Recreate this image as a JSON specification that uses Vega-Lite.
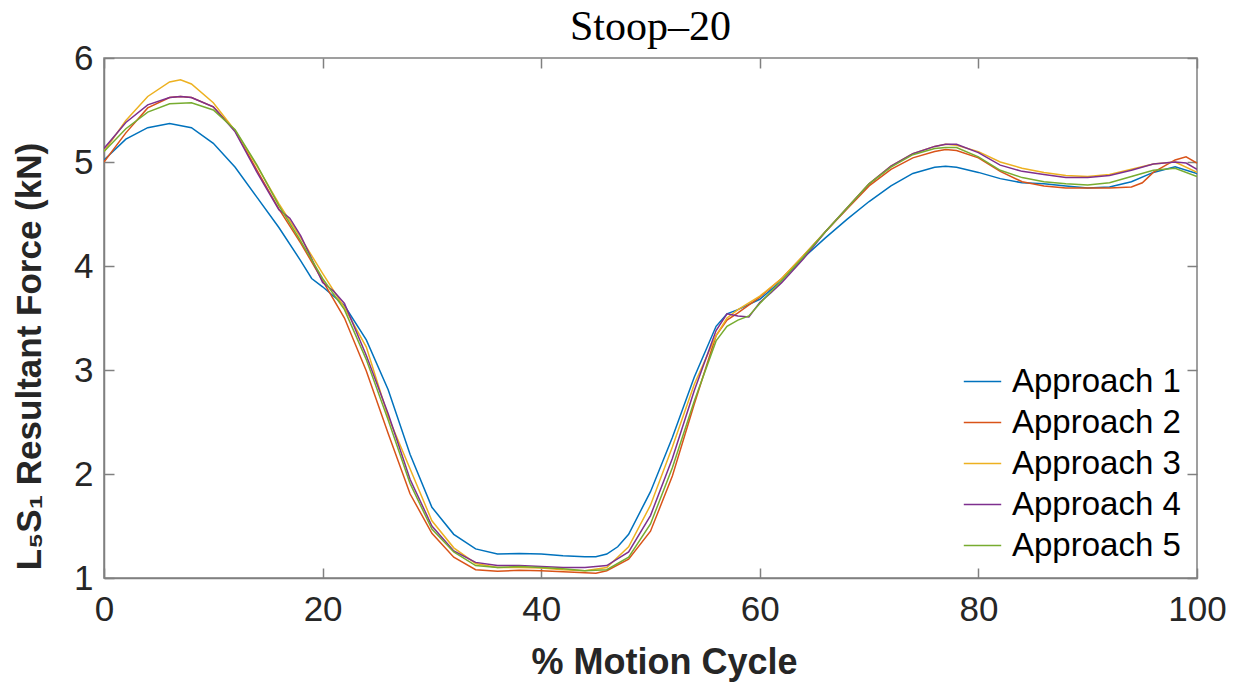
{
  "$schema": "https://vega.github.io/schema/vega-lite/v6.json",
  "width": 1093,
  "height": 520,
  "autosize": "none",
  "padding": {"left": 104, "top": 58, "right": 45, "bottom": 111},
  "background": "white",
  "title": {"text": "Stoop–20", "font": "Liberation Serif", "fontSize": 42, "fontWeight": "normal", "color": "#000000", "anchor": "middle", "baseline": "alphabetic", "offset": -41},
  "config": {
    "view": {"stroke": "#808080", "strokeWidth": 1.5},
    "axis": {"grid": false, "domainColor": "#808080", "domainWidth": 1.5, "tickColor": "#808080", "tickWidth": 1.5, "tickSize": -10, "labelFont": "Liberation Sans", "labelFontSize": 35, "labelColor": "#262626", "labelFlush": false, "labelOverlap": false, "titleFont": "Liberation Sans", "titleFontSize": 36, "titleFontWeight": "bold", "titleColor": "#262626"}
  },
  "data": {"values": [
    {"x":0,"y":5.02,"s":"Approach 1"},{"x":2,"y":5.22,"s":"Approach 1"},{"x":4,"y":5.33,"s":"Approach 1"},{"x":6,"y":5.37,"s":"Approach 1"},{"x":8,"y":5.33,"s":"Approach 1"},{"x":10,"y":5.18,"s":"Approach 1"},{"x":12,"y":4.95,"s":"Approach 1"},{"x":14,"y":4.66,"s":"Approach 1"},{"x":16,"y":4.37,"s":"Approach 1"},{"x":18,"y":4.05,"s":"Approach 1"},{"x":19,"y":3.88,"s":"Approach 1"},{"x":20,"y":3.8,"s":"Approach 1"},{"x":22,"y":3.62,"s":"Approach 1"},{"x":24,"y":3.29,"s":"Approach 1"},{"x":26,"y":2.81,"s":"Approach 1"},{"x":28,"y":2.19,"s":"Approach 1"},{"x":30,"y":1.68,"s":"Approach 1"},{"x":32,"y":1.42,"s":"Approach 1"},{"x":34,"y":1.28,"s":"Approach 1"},{"x":36,"y":1.23,"s":"Approach 1"},{"x":38,"y":1.235,"s":"Approach 1"},{"x":40,"y":1.23,"s":"Approach 1"},{"x":42,"y":1.215,"s":"Approach 1"},{"x":44,"y":1.205,"s":"Approach 1"},{"x":45,"y":1.205,"s":"Approach 1"},{"x":46,"y":1.23,"s":"Approach 1"},{"x":47,"y":1.3,"s":"Approach 1"},{"x":48,"y":1.42,"s":"Approach 1"},{"x":50,"y":1.83,"s":"Approach 1"},{"x":52,"y":2.35,"s":"Approach 1"},{"x":54,"y":2.93,"s":"Approach 1"},{"x":56,"y":3.42,"s":"Approach 1"},{"x":57,"y":3.54,"s":"Approach 1"},{"x":58,"y":3.58,"s":"Approach 1"},{"x":60,"y":3.68,"s":"Approach 1"},{"x":62,"y":3.86,"s":"Approach 1"},{"x":64,"y":4.08,"s":"Approach 1"},{"x":66,"y":4.27,"s":"Approach 1"},{"x":68,"y":4.45,"s":"Approach 1"},{"x":70,"y":4.62,"s":"Approach 1"},{"x":72,"y":4.77,"s":"Approach 1"},{"x":74,"y":4.89,"s":"Approach 1"},{"x":76,"y":4.95,"s":"Approach 1"},{"x":77,"y":4.96,"s":"Approach 1"},{"x":78,"y":4.95,"s":"Approach 1"},{"x":80,"y":4.9,"s":"Approach 1"},{"x":82,"y":4.84,"s":"Approach 1"},{"x":84,"y":4.8,"s":"Approach 1"},{"x":86,"y":4.79,"s":"Approach 1"},{"x":88,"y":4.77,"s":"Approach 1"},{"x":90,"y":4.75,"s":"Approach 1"},{"x":92,"y":4.76,"s":"Approach 1"},{"x":94,"y":4.81,"s":"Approach 1"},{"x":96,"y":4.9,"s":"Approach 1"},{"x":98,"y":4.955,"s":"Approach 1"},{"x":100,"y":4.89,"s":"Approach 1"},
    {"x":0,"y":5.0,"s":"Approach 2"},{"x":2,"y":5.28,"s":"Approach 2"},{"x":4,"y":5.52,"s":"Approach 2"},{"x":6,"y":5.62,"s":"Approach 2"},{"x":7,"y":5.63,"s":"Approach 2"},{"x":8,"y":5.62,"s":"Approach 2"},{"x":10,"y":5.53,"s":"Approach 2"},{"x":12,"y":5.3,"s":"Approach 2"},{"x":14,"y":4.92,"s":"Approach 2"},{"x":16,"y":4.55,"s":"Approach 2"},{"x":18,"y":4.22,"s":"Approach 2"},{"x":20,"y":3.86,"s":"Approach 2"},{"x":22,"y":3.5,"s":"Approach 2"},{"x":24,"y":2.99,"s":"Approach 2"},{"x":26,"y":2.39,"s":"Approach 2"},{"x":28,"y":1.81,"s":"Approach 2"},{"x":30,"y":1.43,"s":"Approach 2"},{"x":32,"y":1.2,"s":"Approach 2"},{"x":34,"y":1.08,"s":"Approach 2"},{"x":36,"y":1.065,"s":"Approach 2"},{"x":38,"y":1.075,"s":"Approach 2"},{"x":40,"y":1.07,"s":"Approach 2"},{"x":42,"y":1.06,"s":"Approach 2"},{"x":44,"y":1.05,"s":"Approach 2"},{"x":45,"y":1.045,"s":"Approach 2"},{"x":46,"y":1.07,"s":"Approach 2"},{"x":48,"y":1.18,"s":"Approach 2"},{"x":50,"y":1.45,"s":"Approach 2"},{"x":52,"y":1.98,"s":"Approach 2"},{"x":54,"y":2.67,"s":"Approach 2"},{"x":56,"y":3.33,"s":"Approach 2"},{"x":57,"y":3.48,"s":"Approach 2"},{"x":58,"y":3.55,"s":"Approach 2"},{"x":60,"y":3.7,"s":"Approach 2"},{"x":62,"y":3.88,"s":"Approach 2"},{"x":64,"y":4.1,"s":"Approach 2"},{"x":66,"y":4.33,"s":"Approach 2"},{"x":68,"y":4.55,"s":"Approach 2"},{"x":70,"y":4.77,"s":"Approach 2"},{"x":72,"y":4.93,"s":"Approach 2"},{"x":74,"y":5.04,"s":"Approach 2"},{"x":76,"y":5.1,"s":"Approach 2"},{"x":77,"y":5.12,"s":"Approach 2"},{"x":78,"y":5.11,"s":"Approach 2"},{"x":80,"y":5.04,"s":"Approach 2"},{"x":82,"y":4.91,"s":"Approach 2"},{"x":84,"y":4.81,"s":"Approach 2"},{"x":86,"y":4.77,"s":"Approach 2"},{"x":88,"y":4.75,"s":"Approach 2"},{"x":90,"y":4.75,"s":"Approach 2"},{"x":92,"y":4.75,"s":"Approach 2"},{"x":94,"y":4.76,"s":"Approach 2"},{"x":95,"y":4.8,"s":"Approach 2"},{"x":96,"y":4.9,"s":"Approach 2"},{"x":98,"y":5.02,"s":"Approach 2"},{"x":99,"y":5.05,"s":"Approach 2"},{"x":100,"y":4.99,"s":"Approach 2"},
    {"x":0,"y":5.1,"s":"Approach 3"},{"x":2,"y":5.4,"s":"Approach 3"},{"x":4,"y":5.63,"s":"Approach 3"},{"x":6,"y":5.77,"s":"Approach 3"},{"x":7,"y":5.79,"s":"Approach 3"},{"x":8,"y":5.75,"s":"Approach 3"},{"x":10,"y":5.57,"s":"Approach 3"},{"x":12,"y":5.3,"s":"Approach 3"},{"x":14,"y":4.96,"s":"Approach 3"},{"x":16,"y":4.6,"s":"Approach 3"},{"x":18,"y":4.27,"s":"Approach 3"},{"x":20,"y":3.93,"s":"Approach 3"},{"x":22,"y":3.6,"s":"Approach 3"},{"x":24,"y":3.22,"s":"Approach 3"},{"x":26,"y":2.55,"s":"Approach 3"},{"x":28,"y":2.05,"s":"Approach 3"},{"x":30,"y":1.55,"s":"Approach 3"},{"x":32,"y":1.29,"s":"Approach 3"},{"x":34,"y":1.14,"s":"Approach 3"},{"x":36,"y":1.1,"s":"Approach 3"},{"x":38,"y":1.1,"s":"Approach 3"},{"x":40,"y":1.095,"s":"Approach 3"},{"x":42,"y":1.08,"s":"Approach 3"},{"x":44,"y":1.07,"s":"Approach 3"},{"x":46,"y":1.1,"s":"Approach 3"},{"x":48,"y":1.3,"s":"Approach 3"},{"x":50,"y":1.7,"s":"Approach 3"},{"x":52,"y":2.26,"s":"Approach 3"},{"x":54,"y":2.86,"s":"Approach 3"},{"x":56,"y":3.33,"s":"Approach 3"},{"x":57,"y":3.5,"s":"Approach 3"},{"x":58,"y":3.58,"s":"Approach 3"},{"x":60,"y":3.71,"s":"Approach 3"},{"x":62,"y":3.88,"s":"Approach 3"},{"x":64,"y":4.1,"s":"Approach 3"},{"x":66,"y":4.33,"s":"Approach 3"},{"x":68,"y":4.56,"s":"Approach 3"},{"x":70,"y":4.79,"s":"Approach 3"},{"x":72,"y":4.96,"s":"Approach 3"},{"x":74,"y":5.08,"s":"Approach 3"},{"x":76,"y":5.15,"s":"Approach 3"},{"x":77,"y":5.17,"s":"Approach 3"},{"x":78,"y":5.16,"s":"Approach 3"},{"x":80,"y":5.1,"s":"Approach 3"},{"x":82,"y":5.0,"s":"Approach 3"},{"x":84,"y":4.94,"s":"Approach 3"},{"x":86,"y":4.9,"s":"Approach 3"},{"x":88,"y":4.87,"s":"Approach 3"},{"x":90,"y":4.86,"s":"Approach 3"},{"x":92,"y":4.88,"s":"Approach 3"},{"x":94,"y":4.93,"s":"Approach 3"},{"x":96,"y":4.98,"s":"Approach 3"},{"x":98,"y":5.0,"s":"Approach 3"},{"x":100,"y":4.9,"s":"Approach 3"},
    {"x":0,"y":5.13,"s":"Approach 4"},{"x":2,"y":5.38,"s":"Approach 4"},{"x":4,"y":5.55,"s":"Approach 4"},{"x":6,"y":5.62,"s":"Approach 4"},{"x":7,"y":5.63,"s":"Approach 4"},{"x":8,"y":5.62,"s":"Approach 4"},{"x":10,"y":5.53,"s":"Approach 4"},{"x":12,"y":5.29,"s":"Approach 4"},{"x":14,"y":4.9,"s":"Approach 4"},{"x":16,"y":4.54,"s":"Approach 4"},{"x":17,"y":4.46,"s":"Approach 4"},{"x":18,"y":4.29,"s":"Approach 4"},{"x":19,"y":4.07,"s":"Approach 4"},{"x":20,"y":3.84,"s":"Approach 4"},{"x":21,"y":3.76,"s":"Approach 4"},{"x":22,"y":3.64,"s":"Approach 4"},{"x":24,"y":3.14,"s":"Approach 4"},{"x":26,"y":2.58,"s":"Approach 4"},{"x":28,"y":1.95,"s":"Approach 4"},{"x":30,"y":1.5,"s":"Approach 4"},{"x":32,"y":1.26,"s":"Approach 4"},{"x":34,"y":1.15,"s":"Approach 4"},{"x":36,"y":1.12,"s":"Approach 4"},{"x":38,"y":1.12,"s":"Approach 4"},{"x":40,"y":1.11,"s":"Approach 4"},{"x":42,"y":1.1,"s":"Approach 4"},{"x":44,"y":1.1,"s":"Approach 4"},{"x":46,"y":1.12,"s":"Approach 4"},{"x":48,"y":1.25,"s":"Approach 4"},{"x":50,"y":1.6,"s":"Approach 4"},{"x":52,"y":2.15,"s":"Approach 4"},{"x":54,"y":2.8,"s":"Approach 4"},{"x":56,"y":3.38,"s":"Approach 4"},{"x":57,"y":3.54,"s":"Approach 4"},{"x":58,"y":3.52,"s":"Approach 4"},{"x":59,"y":3.51,"s":"Approach 4"},{"x":60,"y":3.65,"s":"Approach 4"},{"x":61,"y":3.74,"s":"Approach 4"},{"x":62,"y":3.84,"s":"Approach 4"},{"x":64,"y":4.07,"s":"Approach 4"},{"x":66,"y":4.33,"s":"Approach 4"},{"x":68,"y":4.56,"s":"Approach 4"},{"x":70,"y":4.79,"s":"Approach 4"},{"x":72,"y":4.96,"s":"Approach 4"},{"x":74,"y":5.08,"s":"Approach 4"},{"x":76,"y":5.15,"s":"Approach 4"},{"x":77,"y":5.17,"s":"Approach 4"},{"x":78,"y":5.17,"s":"Approach 4"},{"x":80,"y":5.09,"s":"Approach 4"},{"x":82,"y":4.97,"s":"Approach 4"},{"x":84,"y":4.91,"s":"Approach 4"},{"x":86,"y":4.88,"s":"Approach 4"},{"x":88,"y":4.85,"s":"Approach 4"},{"x":90,"y":4.85,"s":"Approach 4"},{"x":92,"y":4.87,"s":"Approach 4"},{"x":94,"y":4.92,"s":"Approach 4"},{"x":96,"y":4.98,"s":"Approach 4"},{"x":98,"y":5.0,"s":"Approach 4"},{"x":99,"y":4.99,"s":"Approach 4"},{"x":100,"y":4.93,"s":"Approach 4"},
    {"x":0,"y":5.1,"s":"Approach 5"},{"x":2,"y":5.32,"s":"Approach 5"},{"x":4,"y":5.48,"s":"Approach 5"},{"x":6,"y":5.56,"s":"Approach 5"},{"x":8,"y":5.57,"s":"Approach 5"},{"x":10,"y":5.5,"s":"Approach 5"},{"x":12,"y":5.31,"s":"Approach 5"},{"x":14,"y":4.97,"s":"Approach 5"},{"x":16,"y":4.58,"s":"Approach 5"},{"x":18,"y":4.24,"s":"Approach 5"},{"x":20,"y":3.88,"s":"Approach 5"},{"x":22,"y":3.58,"s":"Approach 5"},{"x":24,"y":3.1,"s":"Approach 5"},{"x":26,"y":2.52,"s":"Approach 5"},{"x":28,"y":1.91,"s":"Approach 5"},{"x":30,"y":1.47,"s":"Approach 5"},{"x":32,"y":1.25,"s":"Approach 5"},{"x":34,"y":1.12,"s":"Approach 5"},{"x":36,"y":1.1,"s":"Approach 5"},{"x":38,"y":1.11,"s":"Approach 5"},{"x":40,"y":1.1,"s":"Approach 5"},{"x":42,"y":1.09,"s":"Approach 5"},{"x":44,"y":1.07,"s":"Approach 5"},{"x":46,"y":1.08,"s":"Approach 5"},{"x":48,"y":1.2,"s":"Approach 5"},{"x":50,"y":1.52,"s":"Approach 5"},{"x":52,"y":2.06,"s":"Approach 5"},{"x":54,"y":2.7,"s":"Approach 5"},{"x":56,"y":3.28,"s":"Approach 5"},{"x":57,"y":3.42,"s":"Approach 5"},{"x":58,"y":3.48,"s":"Approach 5"},{"x":59,"y":3.52,"s":"Approach 5"},{"x":60,"y":3.64,"s":"Approach 5"},{"x":62,"y":3.86,"s":"Approach 5"},{"x":64,"y":4.09,"s":"Approach 5"},{"x":66,"y":4.33,"s":"Approach 5"},{"x":68,"y":4.56,"s":"Approach 5"},{"x":70,"y":4.79,"s":"Approach 5"},{"x":72,"y":4.95,"s":"Approach 5"},{"x":74,"y":5.07,"s":"Approach 5"},{"x":76,"y":5.13,"s":"Approach 5"},{"x":77,"y":5.14,"s":"Approach 5"},{"x":78,"y":5.14,"s":"Approach 5"},{"x":80,"y":5.05,"s":"Approach 5"},{"x":82,"y":4.92,"s":"Approach 5"},{"x":84,"y":4.85,"s":"Approach 5"},{"x":86,"y":4.81,"s":"Approach 5"},{"x":88,"y":4.79,"s":"Approach 5"},{"x":90,"y":4.78,"s":"Approach 5"},{"x":92,"y":4.8,"s":"Approach 5"},{"x":94,"y":4.86,"s":"Approach 5"},{"x":96,"y":4.92,"s":"Approach 5"},{"x":98,"y":4.94,"s":"Approach 5"},{"x":100,"y":4.86,"s":"Approach 5"}
  ]},
  "layer": [
    {
      "mark": {"type": "line", "strokeWidth": 1.5, "clip": true},
      "encoding": {
        "x": {"field": "x", "type": "quantitative", "scale": {"domain": [0, 100], "nice": false, "zero": false},
              "axis": {"orient": "bottom", "values": [0, 20, 40, 60, 80, 100], "title": "% Motion Cycle", "labelPadding": 24, "titlePadding": 18, "titleX": 560, "titleAlign": "center"}},
        "y": {"field": "y", "type": "quantitative", "scale": {"domain": [1, 6], "nice": false, "zero": false},
              "axis": {"orient": "left", "values": [1, 2, 3, 4, 5, 6], "title": "L₅S₁ Resultant Force (kN)", "labelPadding": 21, "titleFontSize": 35, "titleAngle": -90, "titleAlign": "center", "titleBaseline": "alphabetic", "titleX": -64, "titleY": 298}},
        "color": {"field": "s", "type": "nominal",
                  "scale": {"domain": ["Approach 1", "Approach 2", "Approach 3", "Approach 4", "Approach 5"], "range": ["#0072BD", "#D95319", "#EDB120", "#7E2F8E", "#77AC30"]},
                  "legend": {"title": null, "orient": "none", "legendX": 859, "legendY": 304, "symbolType": "stroke", "symbolSize": 1400, "symbolStrokeWidth": 1.5, "labelFont": "Liberation Sans", "labelFontSize": 33, "labelColor": "#000000", "labelLimit": 400, "rowPadding": 4, "labelOffset": 10}}
      }
    },
    {
      "mark": {"type": "point", "opacity": 0},
      "encoding": {
        "x": {"field": "x", "type": "quantitative", "axis": {"orient": "top", "values": [0, 20, 40, 60, 80, 100], "labels": false, "title": null, "domain": false}},
        "y": {"field": "y", "type": "quantitative", "axis": {"orient": "right", "values": [1, 2, 3, 4, 5, 6], "labels": false, "title": null, "domain": false}}
      }
    }
  ],
  "resolve": {"axis": {"x": "independent", "y": "independent"}}
}
